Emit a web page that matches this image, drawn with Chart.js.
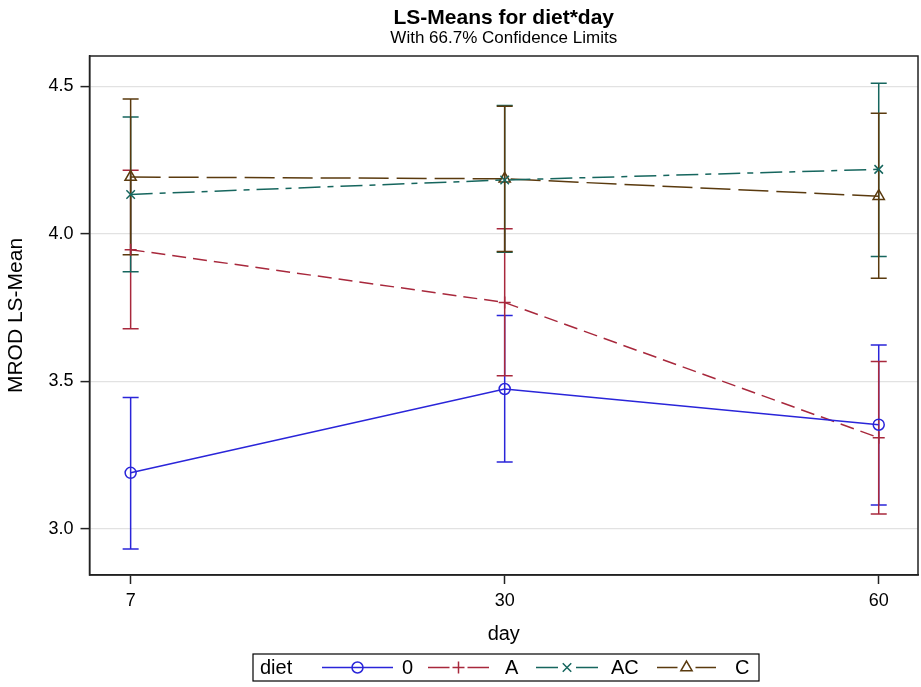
<!DOCTYPE html>
<html>
<head>
<meta charset="utf-8">
<script src="https://cdn.jsdelivr.net/npm/chart.js@4/dist/chart.umd.min.js"></script>
<style>
  html, body { margin: 0; padding: 0; background: #fff; }
  #wrap { width: 921px; height: 687px; }
</style>
</head>
<body>
<div id="wrap"><canvas id="lsChart" width="921" height="687"></canvas></div>
<script>
let days = ["7", "30", "60"];
let yTicks = [3.0, 3.5, 4.0, 4.5];
let dietNames = ["0", "A", "AC", "C"];

// LS-means and 66.7% confidence limits, per diet, at day 7 / 30 / 60
let mean0 = [3.190, 3.474, 3.353];
let lower0 = [2.932, 3.227, 3.081];
let upper0 = [3.445, 3.723, 3.623];

let meanA = [3.946, 3.767, 3.309];
let lowerA = [3.678, 3.519, 3.051];
let upperA = [4.215, 4.017, 3.567];

let meanAC = [4.133, 4.182, 4.218];
let lowerAC = [3.871, 3.937, 3.923];
let upperAC = [4.395, 4.434, 4.510];

let meanC = [4.192, 4.186, 4.127];
let lowerC = [3.929, 3.940, 3.849];
let upperC = [4.456, 4.432, 4.408];

let FONT = "'Liberation Sans', Arial, Helvetica, sans-serif";
let LW = 1.5;

function toPoints(values) {
    return values.map((v, i) => ({ x: i, y: v }));
}

function makeSet(name, means, lows, highs, color, style, radius, dash) {
    return {
        label: name,
        data: toPoints(means),
        lows: lows,
        highs: highs,
        borderColor: color,
        backgroundColor: "rgba(0,0,0,0)",
        borderWidth: LW,
        borderDash: dash,
        pointStyle: style,
        pointRadius: radius,
        pointBorderWidth: LW,
        pointBorderColor: color,
        pointBackgroundColor: "rgba(0,0,0,0)",
        tension: 0,
        fill: false
    };
}

// vertical error bars with caps, drawn under the lines
let errorBars = {
    id: "errorBars",
    beforeDatasetsDraw(chart) {
        let ctx = chart.ctx;
        let xs = chart.scales.x, ys = chart.scales.y;
        ctx.save();
        chart.data.datasets.forEach(ds => {
            ctx.strokeStyle = ds.borderColor;
            ctx.lineWidth = LW;
            ctx.setLineDash([]);
            ds.data.forEach((p, i) => {
                let x = xs.getPixelForValue(p.x);
                let yl = ys.getPixelForValue(ds.lows[i]);
                let yh = ys.getPixelForValue(ds.highs[i]);
                ctx.beginPath();
                ctx.moveTo(x, yl); ctx.lineTo(x, yh);
                ctx.moveTo(x - 8, yl); ctx.lineTo(x + 8, yl);
                ctx.moveTo(x - 8, yh); ctx.lineTo(x + 8, yh);
                ctx.stroke();
            });
        });
        ctx.restore();
    }
};

// plot frame and the bottom legend box
let frameAndLegend = {
    id: "frameAndLegend",
    afterDraw(chart) {
        let ctx = chart.ctx;
        let a = chart.chartArea;
        ctx.save();
        ctx.strokeStyle = "#222";
        ctx.lineWidth = 1.5;
        ctx.setLineDash([]);
        ctx.strokeRect(a.left, a.top, a.right - a.left, a.bottom - a.top);

        // legend
        let boxL = 253, boxT = 654, boxR = 759, boxB = 681;
        let cy = (boxT + boxB) / 2;
        ctx.lineWidth = 1.2;
        ctx.strokeStyle = "#000";
        ctx.strokeRect(boxL, boxT, boxR - boxL, boxB - boxT);
        ctx.fillStyle = "#000";
        ctx.font = "20px " + FONT;
        ctx.textBaseline = "middle";
        ctx.textAlign = "left";
        ctx.fillText("diet", 260, cy + 1);

        let samples = [
            { x0: 322, x1: 393, tx: 402 },
            { x0: 428, x1: 489, tx: 505 },
            { x0: 536, x1: 598, tx: 611 },
            { x0: 657, x1: 716, tx: 735 }
        ];
        chart.data.datasets.forEach((ds, i) => {
            let s = samples[i];
            ctx.strokeStyle = ds.borderColor;
            ctx.lineWidth = LW;
            let mid = (s.x0 + s.x1) / 2;
            ctx.setLineDash([]);
            ctx.beginPath();
            if (i === 0) {
                ctx.moveTo(s.x0, cy); ctx.lineTo(s.x1, cy);
            } else {
                ctx.moveTo(s.x0, cy); ctx.lineTo(mid - 9, cy);
                ctx.moveTo(mid + 9, cy); ctx.lineTo(s.x1, cy);
            }
            ctx.stroke();
            ctx.fillStyle = "rgba(0,0,0,0)";
            Chart.helpers.drawPoint(ctx, {
                pointStyle: ds.pointStyle,
                radius: ds.pointRadius,
                rotation: 0,
                borderWidth: LW
            }, mid, cy);
            ctx.fillStyle = "#000";
            ctx.font = "20px " + FONT;
            ctx.fillText(ds.label, s.tx, cy + 1);
        });
        ctx.restore();
    }
};

let ctx = document.getElementById("lsChart").getContext("2d");

new Chart(ctx, {
    type: "line",
    data: {
        datasets: [
            makeSet(dietNames[0], mean0, lower0, upper0, "#2A25D9", "circle", 5.5, []),
            makeSet(dietNames[1], meanA, lowerA, upperA, "#A8283C", "cross", 6, [14, 7]),
            makeSet(dietNames[2], meanAC, lowerAC, upperAC, "#16665E", "crossRot", 6, [22, 7, 6, 7]),
            makeSet(dietNames[3], meanC, lowerC, upperC, "#5A3A0E", "triangle", 6.5, [30, 8])
        ]
    },
    options: {
        responsive: false,
        animation: false,
        layout: { autoPadding: false, padding: { left: 0, right: 3, top: 0, bottom: 37 } },
        plugins: {
            legend: { display: false },
            tooltip: { enabled: false },
            title: {
                display: true,
                text: "LS-Means for diet*day",
                fullSize: false,
                color: "#000",
                font: { family: FONT, size: 21, weight: "bold", lineHeight: 1.0 },
                padding: { top: 8, bottom: 0 }
            },
            subtitle: {
                display: true,
                text: "With 66.7% Confidence Limits",
                fullSize: false,
                color: "#000",
                font: { family: FONT, size: 17, lineHeight: 1.0 },
                padding: { top: 1, bottom: 9 }
            }
        },
        scales: {
            x: {
                type: "linear",
                min: -0.11,
                max: 2.105,
                afterFit(scale) {
                    scale.height = 75;
                    scale.paddingLeft = 0;
                    scale.paddingRight = 0;
                },
                afterBuildTicks(scale) {
                    scale.ticks = days.map((d, i) => ({ value: i }));
                },
                ticks: {
                    color: "#000",
                    font: { family: FONT, size: 18 },
                    padding: 6,
                    callback: (v) => days[v]
                },
                grid: {
                    display: true,
                    drawOnChartArea: false,
                    tickColor: "#222",
                    tickLength: 9,
                    tickWidth: 1.5
                },
                border: { display: true, color: "#222", width: 1.5 },
                title: {
                    display: true,
                    text: "day",
                    color: "#000",
                    font: { family: FONT, size: 20 },
                    padding: { top: 4, bottom: 4 }
                }
            },
            y: {
                min: 2.844,
                max: 4.602,
                afterFit(scale) {
                    scale.width = 89.5;
                    scale.paddingTop = 0;
                    scale.paddingBottom = 0;
                },
                afterBuildTicks(scale) {
                    scale.ticks = yTicks.map(v => ({ value: v }));
                },
                ticks: {
                    color: "#000",
                    font: { family: FONT, size: 18 },
                    padding: 7,
                    callback: (v) => v.toFixed(1)
                },
                grid: {
                    color: "#e2e2e2",
                    lineWidth: 1.2,
                    tickColor: "#222",
                    tickLength: 9,
                    tickWidth: 1.5
                },
                border: { display: true, color: "#222", width: 1.5 },
                title: {
                    display: true,
                    text: "MROD LS-Mean",
                    color: "#000",
                    font: { family: FONT, size: 21 },
                    padding: { top: 3.5, bottom: 0 }
                }
            }
        }
    },
    plugins: [errorBars, frameAndLegend]
});
</script>
</body>
</html>
